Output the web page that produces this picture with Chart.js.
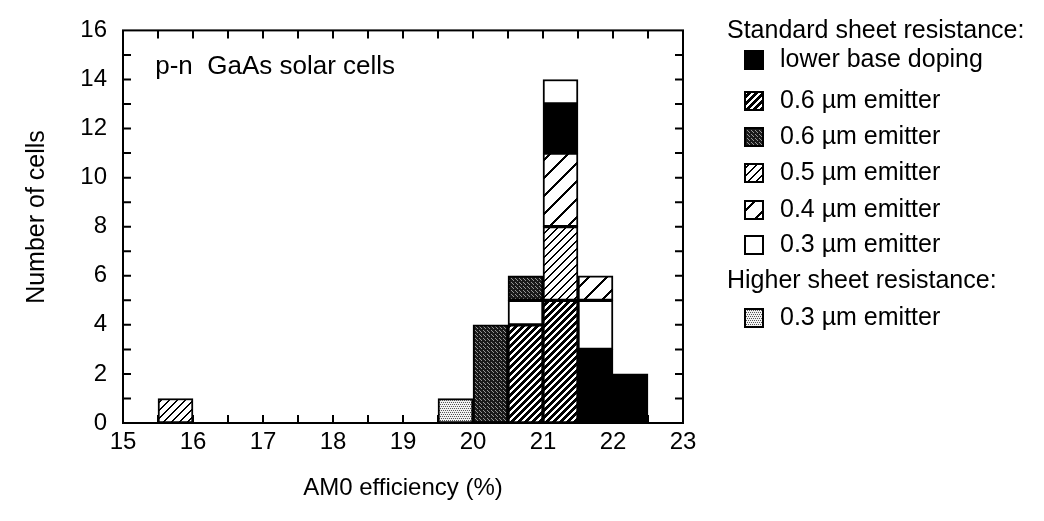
<!DOCTYPE html>
<html>
<head>
<meta charset="utf-8">
<script src="https://cdn.jsdelivr.net/npm/chart.js@4"></script>
<style>
  html, body { margin: 0; padding: 0; background: #fff; }
  #wrap { width: 1044px; height: 521px; position: relative; }
</style>
</head>
<body>
<div id="wrap"><canvas id="cells-chart"></canvas></div>
<script>
// Tâm các cột (độ rộng bin 0.5%)
const binCenters = [15.75, 19.75, 20.25, 20.75, 21.25, 21.75, 22.25];

// Số cell theo từng loại, cùng thứ tự với binCenters
const lowerBaseDoping = [0, 0, 0, 0, 2, 3, 2];
const hatch06 = [0, 0, 0, 4, 5, 0, 0];
const stipple06 = [0, 0, 4, 1, 0, 0, 0];
const hatch05 = [1, 0, 0, 0, 3, 0, 0];
const hatch04 = [0, 0, 0, 0, 3, 1, 0];
const white03 = [0, 0, 0, 1, 1, 2, 0];
const higher03 = [0, 1, 0, 0, 0, 0, 0];

// Thứ tự xếp chồng (dưới lên trên) trong từng cột
const stackOrder = [
    ['hatch05'],
    ['higher03'],
    ['stipple06'],
    ['hatch06', 'white03', 'stipple06'],
    ['hatch06', 'hatch05', 'hatch04', 'lower', 'white03'],
    ['lower', 'white03', 'hatch04'],
    ['lower']
];

const xTicks = [15, 16, 17, 18, 19, 20, 21, 22, 23];
const yTicks = [0, 2, 4, 6, 8, 10, 12, 14, 16];

const FONT = '"Liberation Sans", Arial, Helvetica, sans-serif';

// Tạo pattern theo từng pixel
function makeTile(size, pixel) {
    const c = document.createElement('canvas');
    c.width = size; c.height = size;
    const g = c.getContext('2d');
    const img = g.createImageData(size, size);
    for (let j = 0; j < size; j++) {
        for (let i = 0; i < size; i++) {
            const v = pixel(i, j);
            const p = (j * size + i) * 4;
            img.data[p] = img.data[p + 1] = img.data[p + 2] = v;
            img.data[p + 3] = 255;
        }
    }
    g.putImageData(img, 0, 0);
    return document.createElement('canvas').getContext('2d').createPattern(c, 'repeat');
}

// Gạch chéo "/"
function hatch(size, width) {
    return makeTile(size, (i, j) => ((i + j) % size) < width ? 0 : 255);
}

function stipple(size, dots, bg, dot) {
    return makeTile(size, (i, j) => dots.some(([x, y]) => x === i && y === j) ? dot : bg);
}

const styles = {
    lower:     { label: 'lower base doping', fill: '#000' },
    hatch06:   { label: '0.6 \u00b5m emitter', fill: hatch(7, 4) },
    stipple06: { label: '0.6 \u00b5m emitter', fill: stipple(4, [[1, 0], [3, 2], [0, 3]], 26, 150) },
    hatch05:   { label: '0.5 \u00b5m emitter', fill: hatch(8, 2) },
    hatch04:   { label: '0.4 \u00b5m emitter', fill: hatch(18, 3) },
    white03:   { label: '0.3 \u00b5m emitter', fill: '#fff' },
    higher03:  { label: '0.3 \u00b5m emitter', fill: stipple(4, [[0, 0], [2, 0], [1, 2], [3, 2]], 242, 85) }
};
const counts = { lower: lowerBaseDoping, hatch06, stipple06, hatch05, hatch04, white03, higher03 };

// Dựng dữ liệu thanh nổi từ thứ tự xếp chồng
const segData = {};
Object.keys(counts).forEach(k => segData[k] = []);
stackOrder.forEach((order, i) => {
    let base = 0;
    order.forEach(k => {
        const n = counts[k][i];
        segData[k].push({ x: binCenters[i], y: [base, base + n] });
        base += n;
    });
});

const datasets = Object.keys(counts).map(k => ({
    label: styles[k].label,
    data: segData[k],
    backgroundColor: styles[k].fill,
    borderColor: '#000',
    borderWidth: 2,
    borderSkipped: false,
    barPercentage: 1,
    categoryPercentage: 1,
    grouped: false
}));

// Khung, vạch chia hướng vào trong, tiêu đề trục, chú thích
const framePlugin = {
    id: 'frame',
    afterDraw(chart) {
        const { ctx, chartArea: a, scales: { x, y } } = chart;
        ctx.save();
        ctx.strokeStyle = '#000';
        ctx.lineWidth = 2;
        ctx.strokeRect(a.left, a.top, a.right - a.left, a.bottom - a.top);
        const len = 8;
        ctx.beginPath();
        for (let v = x.min + 0.5; v < x.max; v += 0.5) {
            const px = x.getPixelForValue(v);
            ctx.moveTo(px, a.bottom); ctx.lineTo(px, a.bottom - len);
            ctx.moveTo(px, a.top); ctx.lineTo(px, a.top + len);
        }
        for (let v = y.min + 1; v < y.max; v += 1) {
            const py = y.getPixelForValue(v);
            ctx.moveTo(a.left, py); ctx.lineTo(a.left + len, py);
            ctx.moveTo(a.right, py); ctx.lineTo(a.right - len, py);
        }
        ctx.stroke();

        ctx.fillStyle = '#000';
        ctx.font = '24px ' + FONT;
        ctx.textAlign = 'center';
        ctx.textBaseline = 'middle';
        ctx.fillText('AM0 efficiency (%)', (a.left + a.right) / 2, 488);
        ctx.save();
        ctx.font = '25px ' + FONT;
        ctx.translate(37, 217);
        ctx.rotate(-Math.PI / 2);
        ctx.fillText('Number of cells', 0, 0);
        ctx.restore();

        ctx.font = '26px ' + FONT;
        ctx.textAlign = 'left';
        ctx.fillText('p-n  GaAs solar cells', x.getPixelForValue(15.46), y.getPixelForValue(14.5));

        // Chú thích
        ctx.font = '25px ' + FONT;
        const lx = 745, tx = 780, box = 18;
        ctx.fillText('Standard sheet resistance:', 727, 31);
        const rows = [
            ['lower', 60], ['hatch06', 101], ['stipple06', 137],
            ['hatch05', 173], ['hatch04', 210], ['white03', 245]
        ];
        const drawRow = (k, yy) => {
            ctx.fillStyle = styles[k].fill;
            ctx.fillRect(lx, yy - box / 2, box, box);
            ctx.lineWidth = 2;
            ctx.strokeRect(lx, yy - box / 2, box, box);
            ctx.fillStyle = '#000';
            ctx.fillText(styles[k].label, tx, yy);
        };
        rows.forEach(([k, yy]) => drawRow(k, yy));
        ctx.fillText('Higher sheet resistance:', 727, 281);
        drawRow('higher03', 318);
        ctx.restore();
    }
};

const ctx = document.getElementById('cells-chart').getContext('2d');
const cellsChart = new Chart(ctx, {
    type: 'bar',
    data: { datasets },
    options: {
        responsive: true,
        maintainAspectRatio: false,
        animation: false,
        layout: { padding: { top: 18, right: 361, left: 0, bottom: 0 } },
        plugins: { legend: { display: false }, tooltip: { enabled: false } },
        scales: {
            x: {
                type: 'linear',
                offset: false,
                min: 15,
                max: 23,
                grid: { display: false, drawTicks: false, offset: false },
                border: { display: false },
                afterBuildTicks: s => { s.ticks = xTicks.map(v => ({ value: v })); },
                ticks: { color: '#000', font: { family: FONT, size: 24 }, padding: 5, maxRotation: 0 },
                afterFit: s => { s.height = 98; }
            },
            y: {
                min: 0,
                max: 16,
                grid: { display: false, drawTicks: false },
                border: { display: false },
                afterBuildTicks: s => { s.ticks = yTicks.map(v => ({ value: v })); },
                ticks: { color: '#000', font: { family: FONT, size: 24 }, padding: 16 },
                afterFit: s => { s.width = 123; }
            }
        }
    },
    plugins: [framePlugin]
});
window.cellsChart = cellsChart;
</script>
</body>
</html>
